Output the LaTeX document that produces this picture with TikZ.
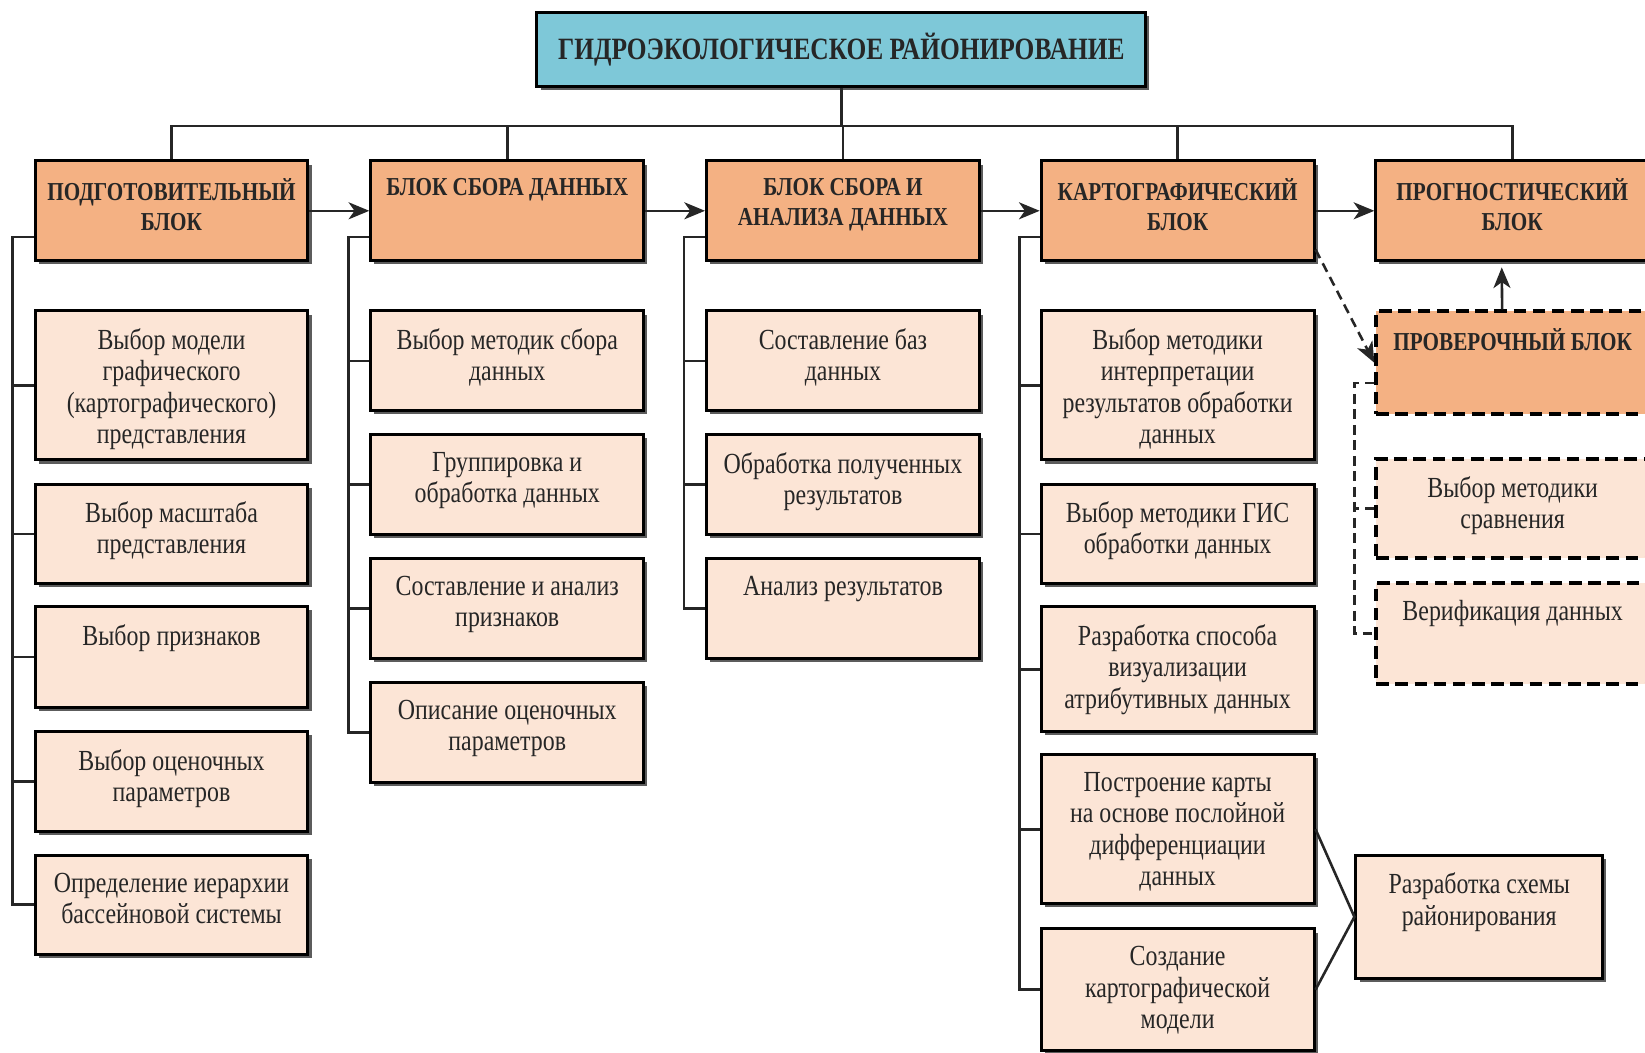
\documentclass[tikz,border=0pt]{standalone}
\usepackage{fontspec}
\setmainfont{Liberation Serif}[FakeStretch=0.82]
\usepackage{tikz}
\usetikzlibrary{arrows.meta}
\usetikzlibrary{shadows}
\tikzset{>={Stealth[length=5.6pt,width=4.6pt,inset=1.6pt]}}
\definecolor{topfill}{RGB}{126,200,216}
\definecolor{headfill}{RGB}{244,177,131}
\definecolor{kidfill}{RGB}{252,229,214}

\begin{document}
\begin{tikzpicture}[x=0.01cm,y=-0.01cm,line width=0.7pt,
		frame/.style={draw,line width=0.8pt,anchor=north west,inner sep=0pt,minimum width=2.6cm},
		box/.style={frame,drop shadow={shadow xshift=0.035cm,shadow yshift=-0.035cm,opacity=0.8,fill=black!80}},
		head/.style={box,fill=headfill,minimum height=0.95cm},
		kid/.style={box,fill=kidfill},
		dbox/.style={frame,line width=1pt,dash pattern=on 3.4pt off 1.8pt},
		txt/.style={anchor=north,align=center,inner sep=0pt,yshift=-0.17cm,text=black!85,font=\fontsize{7.9}{8.5}\selectfont},
		htxt/.style={txt,font=\fontsize{7}{8.2}\selectfont\bfseries},
		link/.style={line width=0.7pt,black!85},
		dlink/.style={link,dash pattern=on 2.6pt off 1.6pt}]
	\useasboundingbox (0,0) rectangle (1568,1003);
%-----Title and the five blocks-----
	\node[draw,line width=0.8pt,fill=topfill,minimum width=5.8cm,minimum height=0.7cm,
		drop shadow={shadow xshift=0.035cm,shadow yshift=-0.035cm,opacity=0.8,fill=black!80},
		text=black!85,font=\fontsize{8.4}{10}\selectfont\bfseries] (title) at (802,47) {ГИДРОЭКОЛОГИЧЕСКОЕ РАЙОНИРОВАНИЕ};
	\foreach \n/\x/\s in {p1/32/{ПОДГОТОВИТЕЛЬНЫЙ\\БЛОК},p2/352/{БЛОК СБОРА ДАННЫХ},p3/672/{БЛОК СБОРА И\\АНАЛИЗА ДАННЫХ},
			p4/991/{КАРТОГРАФИЧЕСКИЙ\\БЛОК},p5/1310/{ПРОГНОСТИЧЕСКИЙ\\БЛОК}}
		{
			\node[head,label={[htxt]north:\s}] (\n) at (\x,152) {};
		}
%-----Column 1-----
	\foreach \n/\t/\h/\s in {a1/295/142/{Выбор модели\\графического\\(картографического)\\представления},
			a2/460/95/{Выбор масштаба\\представления},a3/577/96/{Выбор признаков},
			a4/696/95/{Выбор оценочных\\параметров},a5/814/94/{Определение иерархии\\бассейновой системы}}
		{
			\node[kid,minimum height=\h*0.01cm,label={[txt]north:\s}] (\n) at (32,\t) {};
		}
%-----Column 2-----
	\foreach \n/\t/\s in {b1/295/{Выбор методик сбора\\данных},b2/413/{Группировка и\\обработка данных},
			b3/531/{Составление и анализ\\признаков},b4/649/{Описание оценочных\\параметров}}
		{
			\node[kid,minimum height=0.95cm,label={[txt]north:\s}] (\n) at (352,\t) {};
		}
%-----Column 3-----
	\foreach \n/\t/\s in {c1/295/{Составление баз\\данных},c2/413/{Обработка полученных\\результатов},
			c3/531/{Анализ результатов}}
		{
			\node[kid,minimum height=0.95cm,label={[txt]north:\s}] (\n) at (672,\t) {};
		}
%-----Column 4-----
	\foreach \n/\t/\h/\s in {d1/295/142/{Выбор методики\\интерпретации\\результатов обработки\\данных},
			d2/460/95/{Выбор методики ГИС\\обработки данных},d3/577/119/{Разработка способа\\визуализации\\атрибутивных данных},
			d4/718/142/{Построение карты\\на основе послойной\\дифференциации\\данных},d5/884/116/{Создание\\картографической\\модели}}
		{
			\node[kid,minimum height=\h*0.01cm,label={[txt]north:\s}] (\n) at (991,\t) {};
		}
	\node[kid,minimum width=2.35cm,minimum height=1.17cm,label={[txt]north:Разработка схемы\\районирования}] (z) at (1291,814) {};
%-----Column 5 (dashed)-----
	\node[dbox,fill=headfill,minimum height=0.98cm,label={[htxt]north:ПРОВЕРОЧНЫЙ БЛОК}] (v) at (1310,295) {};
	\node[dbox,fill=kidfill,minimum height=0.94cm,label={[txt]north:Выбор методики\\сравнения}] (w1) at (1310,436) {};
	\node[dbox,fill=kidfill,minimum height=0.96cm,label={[txt]north:Верификация данных}] (w2) at (1310,554) {};
%-----Draw the connectors here-----
	\coordinate (bus) at (802,120);
	\draw[link] (title.south) -- (bus);
	\draw[link] (p1.north) |- (bus) -| (p5.north);
	\foreach \n in {p2,p3,p4}
		\draw[link] (\n.north) -- (\n.north|-bus);
	\foreach \a/\b in {p1/p2,p2/p3,p3/p4,p4/p5}
		\draw[link,->] (\a) -- (\b);
	\foreach \p/\x/\last/\kids in {p1/12/a5/{a1,a2,a3,a4},p2/332/b4/{b1,b2,b3},p3/652/c3/{c1,c2},p4/972/d5/{d1,d2,d3,d4}}
		{
			\coordinate (t\p) at (\x,226);
			\draw[link] (\p.west|-t\p) -- (t\p) |- (\last.west);
			\foreach \n in \kids
				\draw[link] (\n.west) -- (t\p|-\n.west);
		}
	\draw[link] (d4.east) -- (z.west) -- (d5.east);
	\draw[link,->] ([xshift=-0.1cm]v.north) -- ([xshift=-0.1cm,yshift=-0.05cm]p5.south);
	\draw[dlink,->] ([yshift=0.12cm]p4.south east) -- (v.west);
	\coordinate (t5) at (1291,365);
	\draw[dlink] (v.west|-t5) -- (t5) |- (w2.west);
	\draw[dlink] (w1.west) -- (t5|-w1.west);
\end{tikzpicture}
\end{document}
